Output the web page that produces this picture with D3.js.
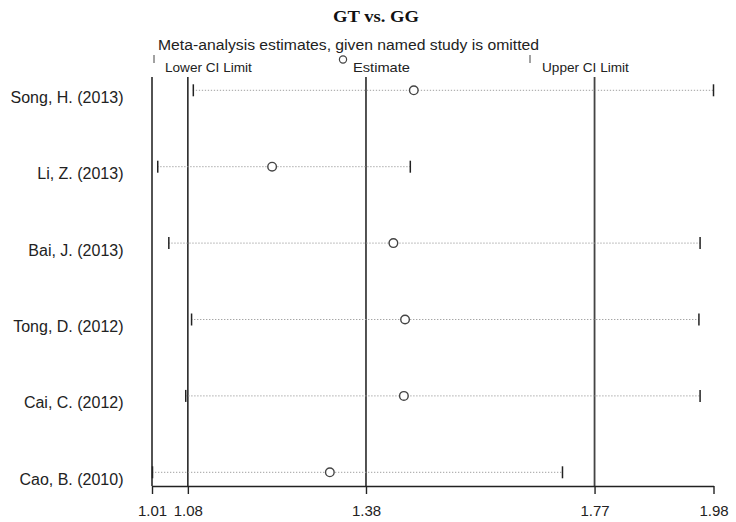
<!DOCTYPE html>
<html>
<head>
<meta charset="utf-8">
<script src="https://cdn.jsdelivr.net/npm/d3@7"></script>
<style>
  html, body { margin: 0; padding: 0; background: #fff; }
  svg { display: block; }
</style>
</head>
<body>
<script>
// ---- data ----
const studies = ["Song, H. (2013)", "Li, Z. (2013)", "Bai, J. (2013)", "Tong, D. (2012)", "Cai, C. (2012)", "Cao, B. (2010)"];
const estimates = [1.463, 1.220, 1.428, 1.448, 1.446, 1.319];
const lowerCI   = [1.084, 1.023, 1.042, 1.081, 1.071, 1.014];
const upperCI   = [1.977, 1.457, 1.954, 1.952, 1.954, 1.718];
const refLines  = [1.014, 1.0755, 1.381, 1.773];
const tickValues = [1.014, 1.0755, 1.381, 1.773, 1.977];
const titleText = "GT vs. GG";
const subtitleText = "Meta-analysis estimates, given named study is omitted";
const legendLabels = ["Lower CI Limit", "Estimate", "Upper CI Limit"];

const W = 736, H = 522;
const sans = "'Liberation Sans', Arial, sans-serif";
const serif = "'Liberation Serif', 'Times New Roman', serif";

const svg = d3.select("body").append("svg").attr("width", W).attr("height", H);

const x = d3.scaleLinear().domain([d3.min(lowerCI), d3.max(upperCI)]).range([152, 713.5]);
const y = d3.scalePoint().domain(studies).range([90.3, 472.3]);

const rows = studies.map((s, i) => ({ s, est: estimates[i], lo: lowerCI[i], hi: upperCI[i] }));

// title
svg.append("text").attr("x", 333).attr("y", 22)
  .attr("font-family", serif).attr("font-weight", "bold").attr("font-size", 16)
  .attr("textLength", 86).attr("lengthAdjust", "spacingAndGlyphs")
  .attr("fill", "#111").text(titleText);

// subtitle
svg.append("text").attr("x", 158).attr("y", 50)
  .attr("font-family", sans).attr("font-size", 13.8)
  .attr("textLength", 381).attr("lengthAdjust", "spacingAndGlyphs")
  .attr("fill", "#222").text(subtitleText);

// legend
const lg = svg.append("g");
lg.append("line").attr("x1", 154).attr("x2", 154).attr("y1", 55).attr("y2", 63)
  .attr("stroke", "#444").attr("stroke-width", 1);
lg.append("text").attr("x", 165).attr("y", 71.5).attr("font-family", sans).attr("font-size", 13.6)
  .attr("fill", "#222").text(legendLabels[0]);
lg.append("circle").attr("cx", 343).attr("cy", 59.5).attr("r", 3.6)
  .attr("fill", "none").attr("stroke", "#444").attr("stroke-width", 1.2);
lg.append("text").attr("x", 353).attr("y", 71.5).attr("font-family", sans).attr("font-size", 13.6)
  .attr("textLength", 57).attr("lengthAdjust", "spacingAndGlyphs")
  .attr("fill", "#222").text(legendLabels[1]);
lg.append("line").attr("x1", 530).attr("x2", 530).attr("y1", 55).attr("y2", 63)
  .attr("stroke", "#444").attr("stroke-width", 1);
lg.append("text").attr("x", 542).attr("y", 71.5).attr("font-family", sans).attr("font-size", 13.6)
  .attr("fill", "#222").text(legendLabels[2]);

// reference vertical lines
svg.append("g").selectAll("line").data(refLines).join("line")
  .attr("x1", d => x(d)).attr("x2", d => x(d))
  .attr("y1", 77).attr("y2", 486)
  .attr("stroke", (d, i) => i === 3 ? "#444" : "#1a1a1a")
  .attr("stroke-width", (d, i) => i === 3 ? 1.8 : 1.5);

// dotted CI lines
svg.append("g").selectAll("line").data(rows).join("line")
  .attr("x1", d => x(d.lo)).attr("x2", d => x(d.hi))
  .attr("y1", d => y(d.s)).attr("y2", d => y(d.s))
  .attr("stroke", "#a0a0a0").attr("stroke-width", 1)
  .attr("stroke-dasharray", "1.3,1.7");

// CI end ticks
const tickG = svg.append("g");
tickG.selectAll("line.lo").data(rows).join("line").attr("class", "lo")
  .attr("x1", d => x(d.lo) + 0.5).attr("x2", d => x(d.lo) + 0.5)
  .attr("y1", d => y(d.s) - 6).attr("y2", d => y(d.s) + 6)
  .attr("stroke", "#222").attr("stroke-width", 1.5);
tickG.selectAll("line.hi").data(rows).join("line").attr("class", "hi")
  .attr("x1", d => x(d.hi)).attr("x2", d => x(d.hi))
  .attr("y1", d => y(d.s) - 6).attr("y2", d => y(d.s) + 6)
  .attr("stroke", "#222").attr("stroke-width", 1.5);

// estimate circles
svg.append("g").selectAll("circle").data(rows).join("circle")
  .attr("cx", d => x(d.est)).attr("cy", d => y(d.s)).attr("r", 4.3)
  .attr("fill", "#fff").attr("stroke", "#444").attr("stroke-width", 1.4);

// study labels
svg.append("g").selectAll("text").data(rows).join("text")
  .attr("x", 123.5).attr("y", d => y(d.s) + 12.5)
  .attr("text-anchor", "end")
  .attr("font-family", sans).attr("font-size", 16)
  .attr("fill", "#222").text(d => d.s);

// x axis
const axis = d3.axisBottom(x).tickValues(tickValues).tickFormat(d3.format(".2f"))
  .tickSize(8).tickSizeOuter(0);
const ax = svg.append("g").attr("transform", "translate(0,486)").call(axis);
ax.select(".domain").attr("stroke", "#222").attr("stroke-width", 1.6);
ax.selectAll(".tick line").attr("stroke", "#222").attr("stroke-width", 1.4);
ax.selectAll(".tick text").attr("font-family", sans).attr("font-size", 15)
  .attr("fill", "#222").attr("dy", 0).attr("y", 30);
</script>
</body>
</html>
